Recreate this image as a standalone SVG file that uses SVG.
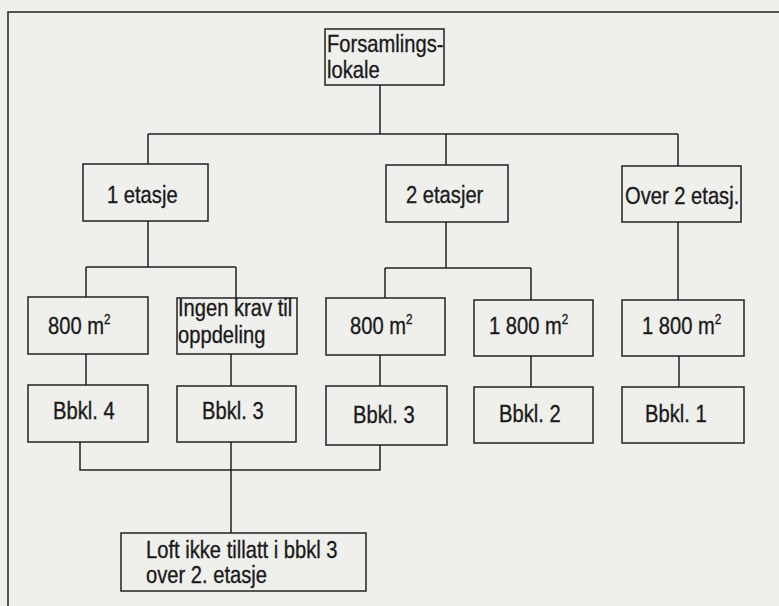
<svg xmlns="http://www.w3.org/2000/svg" width="779" height="606" viewBox="0 0 779 606">
<style>
.bg{fill:#efefec}
.box{fill:#efefec;stroke:#222;stroke-width:1.5}
.ln{fill:none;stroke:#222;stroke-width:1.5}
text{font-family:"Liberation Sans",Arial,sans-serif;font-size:24px;fill:#1a1a1a;stroke:#1a1a1a;stroke-width:0.35}
.sup{font-size:14px}
</style>
<rect class="bg" x="0" y="0" width="779" height="606"/>
<path class="ln" d="M8 606 V12 H779"/>
<g id="connectors">
<path class="ln" d="M380 85 V134 M148 134 H678 M148 134 V164 M446 134 V165 M678 134 V166"/>
<path class="ln" d="M148 221 V267 M86 267 H236 M86 267 V297 M236 267 V298"/>
<path class="ln" d="M446 222 V268 M385 268 H531 M385 268 V298 M531 268 V300"/>
<path class="ln" d="M678 222 V300"/>
<path class="ln" d="M86 354 V385 M231 354 V386 M380 355 V386 M531 356 V387 M679 356 V387"/>
<path class="ln" d="M80 442 V470 H380 V445 M231 442 V533"/>
</g>
<g id="root"><rect class="box" x="325" y="29" width="119" height="56"/><text transform="matrix(0.84 0 0 1 327 52)">Forsamlings-</text><text transform="matrix(0.84 0 0 1 327 78)">lokale</text></g>
<g id="n1"><rect class="box" x="83" y="164" width="125" height="57"/><text transform="matrix(0.84 0 0 1 107 203)">1 etasje</text></g>
<g id="n2"><rect class="box" x="386" y="165" width="122" height="57"/><text transform="matrix(0.84 0 0 1 406 203)">2 etasjer</text></g>
<g id="n3"><rect class="box" x="622" y="166" width="119" height="56"/><text transform="matrix(0.84 0 0 1 625 204)">Over 2 etasj.</text></g>
<g id="a1"><rect class="box" x="28" y="297" width="120" height="57"/><text transform="matrix(0.84 0 0 1 48 334)">800 m<tspan class="sup" dy="-10">2</tspan></text></g>
<g id="a2"><rect class="box" x="177" y="298" width="120" height="56"/><text transform="matrix(0.84 0 0 1 178 316)">Ingen krav til</text><text transform="matrix(0.84 0 0 1 178 343)">oppdeling</text></g>
<g id="a3"><rect class="box" x="326" y="298" width="119" height="57"/><text transform="matrix(0.84 0 0 1 350 334)">800 m<tspan class="sup" dy="-10">2</tspan></text></g>
<g id="a4"><rect class="box" x="474" y="300" width="119" height="56"/><text transform="matrix(0.84 0 0 1 489 334)">1 800 m<tspan class="sup" dy="-10">2</tspan></text></g>
<g id="a5"><rect class="box" x="622" y="300" width="122" height="56"/><text transform="matrix(0.84 0 0 1 642 334)">1 800 m<tspan class="sup" dy="-10">2</tspan></text></g>
<g id="b1"><rect class="box" x="28" y="385" width="120" height="57"/><text transform="matrix(0.84 0 0 1 53 419)">Bbkl. 4</text></g>
<g id="b2"><rect class="box" x="177" y="386" width="119" height="56"/><text transform="matrix(0.84 0 0 1 202 419)">Bbkl. 3</text></g>
<g id="b3"><rect class="box" x="326" y="386" width="121" height="59"/><text transform="matrix(0.84 0 0 1 353 423)">Bbkl. 3</text></g>
<g id="b4"><rect class="box" x="474" y="387" width="119" height="56"/><text transform="matrix(0.84 0 0 1 499 422)">Bbkl. 2</text></g>
<g id="b5"><rect class="box" x="622" y="387" width="122" height="56"/><text transform="matrix(0.84 0 0 1 645 422)">Bbkl. 1</text></g>
<g id="loft"><rect class="box" x="121" y="533" width="245" height="58"/><text transform="matrix(0.84 0 0 1 146 558)">Loft ikke tillatt i bbkl 3</text><text transform="matrix(0.84 0 0 1 146 583)">over 2. etasje</text></g>
</svg>
